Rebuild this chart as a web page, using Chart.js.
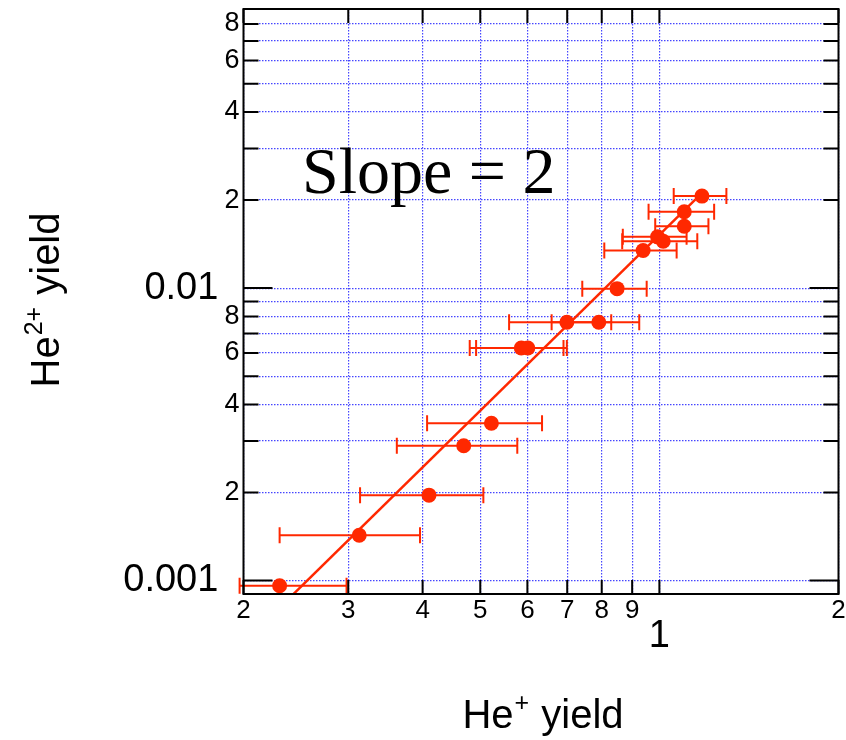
<!DOCTYPE html>
<html>
<head>
<meta charset="utf-8">
<script src="https://cdn.jsdelivr.net/npm/chart.js@4.4.1/dist/chart.umd.min.js"></script>
<style>
  html, body { margin: 0; padding: 0; background: #fff; }
  canvas { display: block; }
</style>
</head>
<body>
<canvas id="chart" width="846" height="740"></canvas>
<script>
// He+ yield (x) with horizontal error range, He2+ yield (y)
const heYield   = [0.230, 0.313, 0.410, 0.469, 0.522, 0.586, 0.601, 0.699, 0.791, 0.849, 0.939, 0.993, 1.015, 1.101, 1.101, 1.179];
const he2Yield  = [0.00096, 0.00143, 0.00196, 0.00289, 0.00345, 0.00624, 0.00624, 0.00764, 0.00764, 0.00996, 0.01344, 0.01497, 0.01446, 0.01628, 0.01824, 0.02063];
const heYieldLo = [0.197, 0.230, 0.314, 0.362, 0.407, 0.480, 0.492, 0.559, 0.659, 0.742, 0.808, 0.868, 0.866, 0.984, 0.959, 1.057];
const heYieldHi = [0.298, 0.396, 0.506, 0.577, 0.635, 0.690, 0.699, 0.830, 0.925, 0.952, 1.069, 1.111, 1.158, 1.209, 1.236, 1.296];

// slope = 2 line, end points
const fitX = [0.24, 1.15];
const fitY = [0.00088, 0.0201];

const xTickValues = [0.2, 0.3, 0.4, 0.5, 0.6, 0.7, 0.8, 0.9, 1, 2];
const xTickLabels = ["2", "3", "4", "5", "6", "7", "8", "9", ["", "1"], "2"];
const yTickValues = [0.001, 0.002, 0.003, 0.004, 0.005, 0.006, 0.007, 0.008, 0.009,
                     0.01, 0.02, 0.03, 0.04, 0.05, 0.06, 0.07, 0.08, 0.09];
const yTickLabels = ["0.001  ", "2", "", "4", "", "6", "", "8", "",
                     "0.01  ", "2", "", "4", "", "6", "", "8", ""];
const yMajor = [0.001, 0.01];

const red = "rgb(255, 40, 0)";
const sans = "'Liberation Sans', Arial, Helvetica, sans-serif";

Chart.defaults.font.family = sans;

const errorBars = {
    id: "errorBars",
    beforeDatasetsDraw(chart) {
        const { ctx, scales: { x, y } } = chart;
        ctx.save();
        ctx.strokeStyle = red;
        ctx.lineWidth = 2;
        heYield.forEach((_, i) => {
            const py = y.getPixelForValue(he2Yield[i]);
            const x0 = x.getPixelForValue(heYieldLo[i]);
            const x1 = x.getPixelForValue(heYieldHi[i]);
            ctx.beginPath();
            ctx.moveTo(x0, py);
            ctx.lineTo(x1, py);
            ctx.moveTo(x0, py - 8);
            ctx.lineTo(x0, py + 8);
            ctx.moveTo(x1, py - 8);
            ctx.lineTo(x1, py + 8);
            ctx.stroke();
        });
        ctx.restore();
    },
};

// draws "He" + superscript + " yield" centred on (0,0) baseline
function titleText(ctx, sup, size) {
    const big = `${size}px ${sans}`;
    const small = `${Math.round(size * 0.62)}px ${sans}`;
    ctx.font = big;
    const w1 = ctx.measureText("He").width;
    const w3 = ctx.measureText(" yield").width;
    ctx.font = small;
    const w2 = ctx.measureText(sup).width;
    const total = w1 + w2 + w3 + 2;
    let pos = -total / 2;
    ctx.font = big;
    ctx.fillText("He", pos, 0);
    pos += w1 + 1;
    ctx.font = small;
    ctx.fillText(sup, pos, -size * 0.42);
    pos += w2 + 1;
    ctx.font = big;
    ctx.fillText(" yield", pos, 0);
}

const frame = {
    id: "frame",
    afterDraw(chart) {
        const { ctx, chartArea: a, scales: { x, y } } = chart;
        ctx.save();
        ctx.strokeStyle = "#000";
        ctx.lineWidth = 2;
        ctx.strokeRect(a.left, a.top, a.right - a.left, a.bottom - a.top);

        ctx.beginPath();
        yTickValues.forEach((v) => {
            const py = y.getPixelForValue(v);
            const len = yMajor.includes(v) ? 29 : 15;
            ctx.moveTo(a.left, py);
            ctx.lineTo(a.left + len, py);
            ctx.moveTo(a.right, py);
            ctx.lineTo(a.right - len, py);
        });
        xTickValues.forEach((v) => {
            const px = x.getPixelForValue(v);
            ctx.moveTo(px, a.bottom);
            ctx.lineTo(px, a.bottom - 14);
            ctx.moveTo(px, a.top);
            ctx.lineTo(px, a.top + 14);
        });
        ctx.stroke();

        ctx.fillStyle = "#000";
        ctx.textAlign = "left";
        ctx.textBaseline = "alphabetic";

        ctx.save();
        ctx.translate(543, 728);
        titleText(ctx, "+", 40);
        ctx.restore();

        ctx.save();
        ctx.translate(59, 300);
        ctx.rotate(-Math.PI / 2);
        titleText(ctx, "2+", 40);
        ctx.restore();

        ctx.font = "66px 'Liberation Serif', 'Times New Roman', serif";
        ctx.fillText("Slope = 2", 302, 193);
        ctx.restore();
    },
};

const gridOpts = {
    color: "rgb(70, 70, 255)",
    lineWidth: 1.2,
    drawTicks: false,
};

const ctx = document.getElementById("chart").getContext("2d");
const chart = new Chart(ctx, {
    type: "scatter",
    data: {
        datasets: [
            {
                label: "He2+ vs He+",
                data: heYield.map((v, i) => ({ x: v, y: he2Yield[i] })),
                backgroundColor: red,
                borderWidth: 0,
                pointRadius: 7.5,
                order: 1,
            },
            {
                type: "line",
                label: "Slope = 2",
                data: fitX.map((v, i) => ({ x: v, y: fitY[i] })),
                borderColor: red,
                borderWidth: 2.5,
                pointRadius: 0,
                fill: false,
                order: 2,
            },
        ],
    },
    options: {
        responsive: false,
        animation: false,
        layout: { padding: { top: 9, right: 6, left: 0, bottom: 0 } },
        plugins: {
            legend: { display: false },
            tooltip: { enabled: false },
        },
        scales: {
            x: {
                type: "logarithmic",
                min: 0.2,
                max: 2,
                afterBuildTicks: (s) => {
                    s.ticks = xTickValues.map((v) => ({ value: v }));
                },
                afterFit: (s) => {
                    s.height = 146;
                    s.paddingLeft = 0;
                    s.paddingRight = 0;
                },
                grid: gridOpts,
                border: { display: false, dash: [1.5, 1.5] },
                ticks: {
                    autoSkip: false,
                    maxRotation: 0,
                    padding: 2,
                    color: "#000",
                    font: (c) => (c.index === 8 ? { size: 38, lineHeight: "27px" } : { size: 26, lineHeight: "30px" }),
                    callback: (v, i) => xTickLabels[i],
                },
            },
            y: {
                type: "logarithmic",
                min: 0.0009,
                max: 0.09,
                afterBuildTicks: (s) => {
                    s.ticks = yTickValues.map((v) => ({ value: v }));
                },
                afterFit: (s) => {
                    s.width = 243.5;
                    s.paddingTop = 0;
                    s.paddingBottom = 0;
                },
                grid: gridOpts,
                border: { display: false, dash: [1.5, 1.5] },
                ticks: {
                    autoSkip: false,
                    padding: 4,
                    color: "#000",
                    font: (c) => (c.index === 0 || c.index === 9 ? { size: 38 } : { size: 27 }),
                    callback: (v, i) => yTickLabels[i],
                },
            },
        },
    },
    plugins: [errorBars, frame],
});
</script>
</body>
</html>
